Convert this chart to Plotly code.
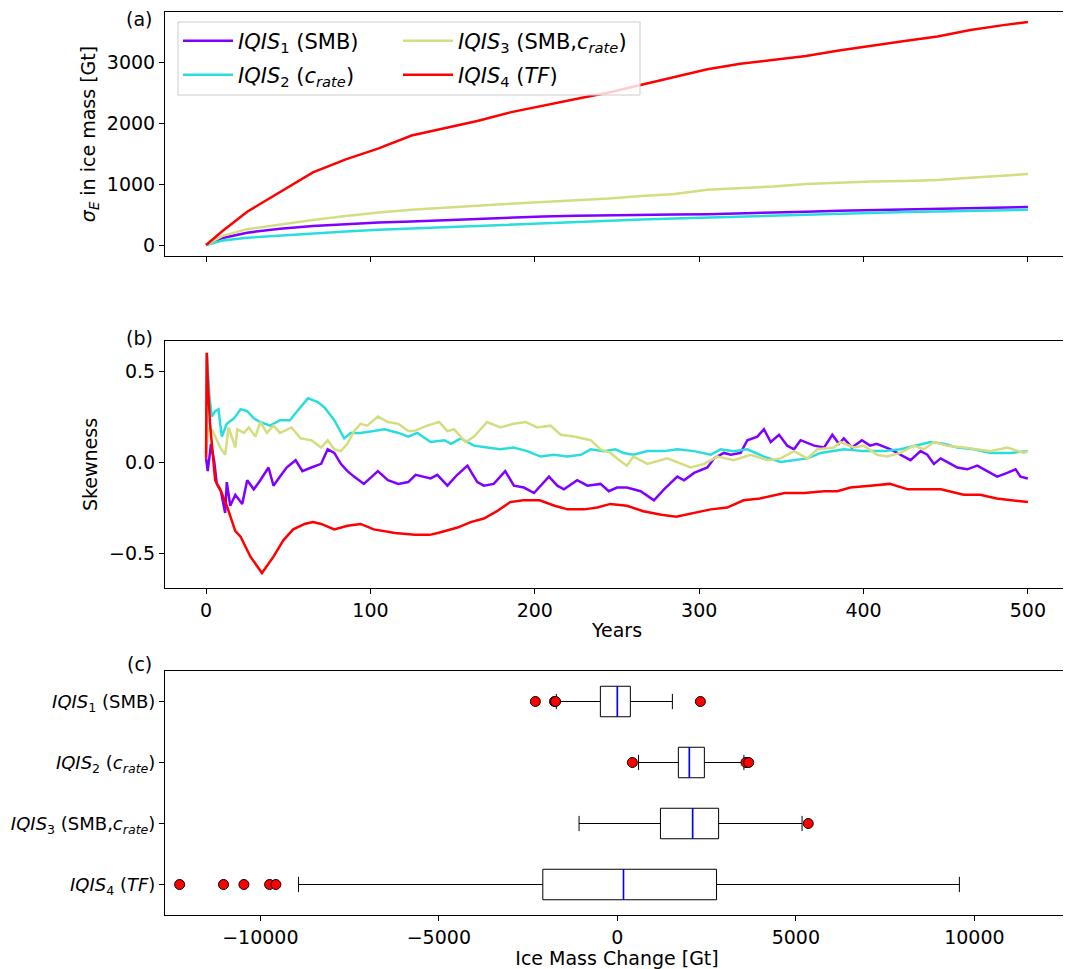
import plotly.graph_objects as go

# ---- panel (a): ensemble spread sigma_E of ice mass [Gt] ----
sig_years = [0, 10, 25, 45, 65, 85, 105, 125, 145, 165, 185, 205, 225, 245,
             265, 285, 305, 325, 345, 365, 385, 405, 425, 445, 465, 485, 500]
sig_iqis1 = [0, 115, 202, 268, 310, 342, 370, 387, 408, 430, 451, 467, 479, 490,
             494, 500, 505, 515, 530, 545, 560, 573, 584, 595, 605, 615, 623]
sig_iqis2 = [0, 75, 120, 158, 196, 222, 250, 272, 293, 320, 342, 364, 381, 397,
             418, 435, 451, 467, 483, 500, 516, 530, 540, 550, 561, 572, 579]
sig_iqis3 = [0, 150, 260, 340, 410, 475, 535, 578, 605, 642, 675, 701, 729, 762,
             805, 838, 905, 930, 960, 1000, 1023, 1040, 1049, 1065, 1103, 1135, 1164]
sig_iqis4 = [0, 230, 546, 874, 1190, 1405, 1585, 1795, 1920, 2033, 2175, 2290, 2393, 2500,
             2630, 2760, 2880, 2970, 3033, 3100, 3190, 3272, 3343, 3420, 3525, 3605, 3655]

# ---- panel (b): skewness, (year, value) pairs ----
skew_iqis1 = [(0, 0.02), (1, -0.05), (3, 0.10), (5, 0.00), (6.5, -0.12), (9, -0.16),
              (11.6, -0.28), (12.6, -0.11), (14.7, -0.24), (17.8, -0.18), (22, -0.23),
              (25, -0.10), (29, -0.15), (33, -0.10), (38, -0.03), (41, -0.13), (45, -0.08),
              (49, -0.03), (54.5, 0.01), (58.6, -0.05), (64, -0.03), (70, -0.01), (74, 0.07),
              (78, 0.05), (82, -0.01), (86, -0.05), (90, -0.08), (96, -0.12), (104.5, -0.05),
              (110.6, -0.10), (117, -0.12), (123, -0.11), (127.5, -0.07), (136.6, -0.09),
              (140.7, -0.07), (146.8, -0.13), (152.8, -0.07), (159, -0.02), (165, -0.11),
              (169, -0.13), (175, -0.12), (182, -0.05), (187.3, -0.13), (193.4, -0.14),
              (199.5, -0.17), (203.5, -0.13), (208.6, -0.08), (213.7, -0.13), (217.7, -0.15),
              (225.8, -0.10), (232, -0.13), (240, -0.12), (245, -0.16), (250, -0.14),
              (256, -0.14), (264.4, -0.16), (272.5, -0.21), (278.6, -0.15), (286.7, -0.08),
              (290.8, -0.10), (296.9, -0.06), (305, -0.03), (309, 0.02), (315, 0.05),
              (319.2, 0.04), (325.2, 0.05), (329.3, 0.12), (335.4, 0.14), (339.4, 0.18),
              (343.5, 0.11), (348.6, 0.15), (353.6, 0.09), (357.7, 0.07), (361.7, 0.12),
              (369.9, 0.09), (376, 0.08), (381, 0.15), (385, 0.10), (388, 0.13), (393, 0.08),
              (399, 0.12), (404, 0.09), (408, 0.10), (416.5, 0.07), (424.6, 0.03),
              (428.6, 0.01), (434.7, 0.06), (438.8, 0.04), (442.8, -0.01), (446.9, 0.02),
              (453, -0.01), (457, -0.03), (463.1, -0.04), (469.2, -0.02), (475.2, -0.05),
              (481.3, -0.08), (487.4, -0.06), (492.5, -0.04), (495.5, -0.08), (500, -0.09)]
skew_iqis2 = [(0, 0.05), (0.5, 0.60), (2, 0.36), (3.5, 0.25), (5.5, 0.28), (7.5, 0.29),
              (9.6, 0.14), (12.6, 0.21), (17, 0.24), (21, 0.29), (25, 0.28), (29, 0.24),
              (33, 0.22), (39, 0.20), (45, 0.23), (51, 0.23), (55.5, 0.28), (62, 0.35),
              (68, 0.33), (72, 0.30), (78, 0.23), (84, 0.13), (88, 0.16), (94, 0.16),
              (102, 0.17), (108.6, 0.18), (117, 0.16), (123, 0.14), (128.5, 0.16),
              (136.6, 0.11), (145, 0.12), (149, 0.10), (155, 0.13), (163, 0.09), (171, 0.08),
              (179, 0.07), (187, 0.08), (195.4, 0.06), (203.5, 0.03), (211.6, 0.04),
              (219.8, 0.03), (228, 0.04), (234, 0.07), (242, 0.06), (249, 0.07), (254, 0.05),
              (260, 0.04), (268.5, 0.06), (278.6, 0.06), (286.7, 0.07), (296.9, 0.06),
              (307, 0.04), (313, 0.07), (321, 0.06), (329.3, 0.07), (339.4, 0.03),
              (349.6, 0.00), (357.7, 0.01), (365.8, 0.02), (374, 0.05), (388, 0.07),
              (400, 0.06), (412.4, 0.06), (422.5, 0.07), (432.7, 0.09), (440.8, 0.11),
              (448.9, 0.10), (457, 0.08), (467.1, 0.07), (477.3, 0.05), (489.4, 0.05), (500, 0.06)]
skew_iqis3 = [(0, 0.05), (1.4, 0.19), (4, 0.17), (8.6, 0.08), (11.6, 0.04), (13.7, 0.19),
              (17.8, 0.08), (19, 0.18), (23, 0.16), (26, 0.19), (30, 0.14), (33, 0.22),
              (37, 0.16), (41, 0.20), (45, 0.16), (52, 0.19), (57.5, 0.13), (64, 0.12),
              (70, 0.08), (74, 0.12), (78, 0.07), (82, 0.06), (86, 0.10), (90, 0.17),
              (94, 0.21), (98, 0.20), (104.5, 0.25), (110.6, 0.22), (117, 0.21), (123, 0.17),
              (126.5, 0.17), (134.6, 0.20), (141.7, 0.22), (146.8, 0.17), (150.8, 0.18),
              (158, 0.11), (163, 0.14), (171, 0.22), (179, 0.19), (187, 0.21), (194.4, 0.22),
              (201.5, 0.19), (209.6, 0.20), (215.7, 0.15), (223.8, 0.14), (234, 0.12),
              (240, 0.07), (246, 0.05), (250, 0.02), (256, -0.02), (260, 0.03),
              (268.5, -0.01), (280.6, 0.02), (288.8, -0.01), (294.8, -0.03), (303, -0.01),
              (311, 0.03), (321, 0.01), (331.3, 0.04), (341.5, 0.01), (349.6, 0.02),
              (357.7, 0.06), (365.8, 0.02), (371.9, 0.07), (382, 0.08), (386, 0.11),
              (394, 0.08), (400, 0.09), (408.3, 0.04), (414.4, 0.03), (422.5, 0.05),
              (430.6, 0.09), (436.7, 0.07), (442.8, 0.11), (450.9, 0.09), (461, 0.08),
              (469.2, 0.07), (477.3, 0.06), (487.4, 0.08), (497.5, 0.05), (500, 0.06)]
skew_iqis4 = [(0, 0.02), (0.4, 0.60), (1, 0.45), (2.4, 0.21), (5.5, -0.10), (8.6, -0.15),
              (12.6, -0.24), (17.8, -0.38), (21, -0.41), (27, -0.52), (34, -0.61), (41, -0.52),
              (47, -0.43), (53, -0.37), (60, -0.34), (65, -0.33), (70, -0.34), (78, -0.37),
              (86, -0.35), (94, -0.34), (102, -0.37), (115, -0.39), (127, -0.40), (136, -0.40),
              (141, -0.39), (153, -0.36), (161, -0.33), (169, -0.31), (177, -0.27), (185, -0.22),
              (193, -0.21), (203, -0.21), (212, -0.24), (220, -0.26), (230, -0.26), (238, -0.25),
              (246, -0.23), (256, -0.24), (266, -0.27), (277, -0.29), (286, -0.30), (297, -0.28),
              (307, -0.26), (317, -0.25), (327, -0.21), (337, -0.20), (352, -0.17), (364, -0.17),
              (376, -0.16), (384, -0.16), (392, -0.14), (404, -0.13), (416, -0.12), (427, -0.15),
              (437, -0.15), (447, -0.15), (461, -0.18), (471, -0.18), (481, -0.20), (491, -0.21),
              (500, -0.22)]

# ---- panel (c): box plot statistics of ice mass change [Gt] ----
box_q1 = [-476, 1709, 1207, -2088]
box_median = [0, 2017, 2108, 172]
box_q3 = [364, 2437, 2836, 2778]
box_low = [-1709, 594, -1073, -8930]
box_high = [1541, 3545, 5173, 9580]
box_outliers = [[-2297, -1760, -1730, 2325],
                [420, 3602, 3679],
                [5346],
                [-12260, -11030, -10460, -9740, -9565]]

names = ["<i>IQIS</i><sub>1</sub> (SMB)",
         "<i>IQIS</i><sub>2</sub> (<i>c</i><sub><i>rate</i></sub>)",
         "<i>IQIS</i><sub>3</sub> (SMB,<i>c</i><sub><i>rate</i></sub>)",
         "<i>IQIS</i><sub>4</sub> (<i>TF</i>)"]
colors = ["#8000ff", "#2adddd", "#d4dd80", "#ff0000"]

FONT = "DejaVu Sans"
FS = 19
# the page puts the figure 8px in from the window corner
OFF = 8
W, H = 1071 - OFF, 969 - OFF
# plot area in window pixels
X0, X1, Y0, Y1 = 165, 1069, 12, 915


def px_x(px):
    return (px - X0) / (X1 - X0)


def px_y(py):
    return (Y1 - py) / (Y1 - Y0)


fig = go.Figure()

# panel (a); one legend box per entry so the 2x2 matplotlib layout can be kept
legend_ids = ["legend", "legend3", "legend2", "legend4"]
sig_series = [sig_iqis1, sig_iqis2, sig_iqis3, sig_iqis4]
for i, vals in enumerate(sig_series):
    fig.add_trace(go.Scatter(
        x=sig_years, y=vals, mode="lines", name=names[i],
        line=dict(color=colors[i], width=2.5),
        legend=legend_ids[i], xaxis="x", yaxis="y"))

# panel (b)
skew_series = [skew_iqis1, skew_iqis2, skew_iqis3, skew_iqis4]
for i, pairs in enumerate(skew_series):
    fig.add_trace(go.Scatter(
        x=[p[0] for p in pairs], y=[p[1] for p in pairs], mode="lines",
        line=dict(color=colors[i], width=2.5), showlegend=False,
        xaxis="x2", yaxis="y2"))

# panel (c)
positions = [1, 2, 3, 4]
fig.add_trace(go.Box(
    y=positions, q1=box_q1, median=box_median, q3=box_q3,
    lowerfence=box_low, upperfence=box_high,
    orientation="h", width=0.5, whiskerwidth=0.5,
    fillcolor="white", line=dict(color="black", width=1),
    boxpoints=False, showlegend=False, xaxis="x3", yaxis="y3"))

# blue median lines drawn over the black box medians
med_x, med_y = [], []
for p, m in zip(positions, box_median):
    med_x += [m, m, None]
    med_y += [p - 0.25, p + 0.25, None]
fig.add_trace(go.Scatter(x=med_x, y=med_y, mode="lines",
                         line=dict(color="blue", width=1.6),
                         showlegend=False, xaxis="x3", yaxis="y3"))

out_x, out_y = [], []
for p, outs in zip(positions, box_outliers):
    out_x += outs
    out_y += [p] * len(outs)
fig.add_trace(go.Scatter(x=out_x, y=out_y, mode="markers",
                         marker=dict(color="red", size=10, line=dict(color="black", width=1)),
                         showlegend=False, xaxis="x3", yaxis="y3"))

axis_style = dict(showline=True, linecolor="black", linewidth=1, mirror=True,
                  ticks="outside", ticklen=5, tickcolor="black", showgrid=False,
                  zeroline=False, automargin=False)
tick_font = dict(size=FS, color="black")

legend_style = dict(xanchor="left", yanchor="middle", bgcolor="rgba(0,0,0,0)",
                    font=dict(size=21), itemwidth=50, tracegroupgap=0)

fig.update_layout(
    width=W, height=H,
    margin=dict(l=X0 - OFF, r=W - (X1 - OFF), t=Y0 - OFF, b=H - (Y1 - OFF), autoexpand=False),
    paper_bgcolor="white", plot_bgcolor="white",
    font=dict(family=FONT, color="black", size=FS),
    xaxis=dict(domain=[0, 1], anchor="y", range=[-25, 525],
               tickvals=[0, 100, 200, 300, 400, 500], showticklabels=False,
               tickfont=tick_font, **axis_style),
    yaxis=dict(domain=[px_y(256), 1], anchor="x", range=[-180, 3820],
               tickvals=[0, 1000, 2000, 3000], tickfont=tick_font,
               title=dict(text="<i>σ</i><sub><i>E</i></sub> in ice mass [Gt]",
                          font=dict(size=FS), standoff=6), **axis_style),
    xaxis2=dict(domain=[0, 1], anchor="y2", range=[-25, 525],
                tickvals=[0, 100, 200, 300, 400, 500], tickfont=tick_font,
                title=dict(text="Years", font=dict(size=FS), standoff=3), **axis_style),
    yaxis2=dict(domain=[px_y(588), px_y(341)], anchor="x2", range=[-0.692, 0.665],
                tickvals=[-0.5, 0, 0.5], tickformat=".1f", tickfont=tick_font,
                title=dict(text="Skewness", font=dict(size=FS), standoff=6), **axis_style),
    xaxis3=dict(domain=[0, 1], anchor="y3", range=[-12670, 12650],
                tickvals=[-10000, -5000, 0, 5000, 10000], tickformat="d", tickfont=tick_font,
                title=dict(text="Ice Mass Change [Gt]", font=dict(size=FS), standoff=3),
                **axis_style),
    yaxis3=dict(domain=[0, px_y(671)], anchor="x3", range=[4.5, 0.5],
                tickvals=positions, ticktext=names,
                tickfont=dict(size=18, color="black"), **axis_style),
    legend=dict(x=px_x(178), y=px_y(41), **legend_style),
    legend3=dict(x=px_x(178), y=px_y(75), **legend_style),
    legend2=dict(x=px_x(398), y=px_y(41), **legend_style),
    legend4=dict(x=px_x(398), y=px_y(75), **legend_style),
)

# legend frame (matplotlib style, semi-transparent white)
fig.add_shape(type="rect", xref="paper", yref="paper",
              x0=px_x(178), x1=px_x(640), y0=px_y(95), y1=px_y(22),
              line=dict(color="#cccccc", width=1),
              fillcolor="rgba(255,255,255,0.8)", layer="above")

for label, py in [("(a)", 19), ("(b)", 338), ("(c)", 664)]:
    fig.add_annotation(text=label, xref="paper", yref="paper",
                       x=px_x(139), y=px_y(py), xanchor="center", yanchor="middle",
                       showarrow=False, font=dict(size=FS))

fig.write_html("out.html")
